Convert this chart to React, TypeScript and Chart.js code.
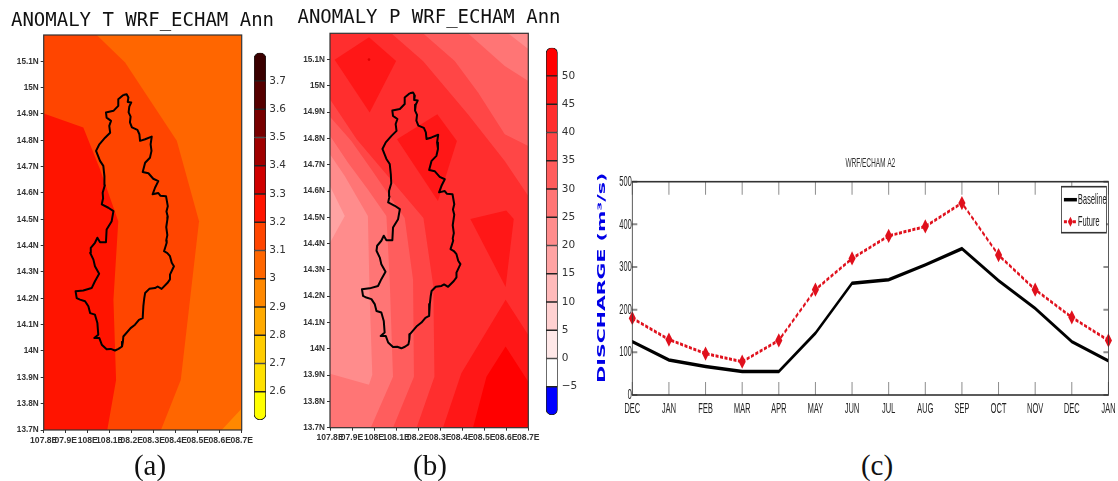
import React, { useEffect, useRef } from "react";
import { Chart, registerables } from "chart.js";

Chart.register(...registerables);

const LON_MIN = 107.8;
const LON_MAX = 108.7;
const LAT_MIN = 13.7;
const LAT_MAX = 15.2;

const LAT_TICKS = [13.7, 13.8, 13.9, 14, 14.1, 14.2, 14.3, 14.4, 14.5, 14.6, 14.7, 14.8, 14.9, 15, 15.1];
const LAT_LABELS = ["13.7N", "13.8N", "13.9N", "14N", "14.1N", "14.2N", "14.3N", "14.4N", "14.5N", "14.6N", "14.7N", "14.8N", "14.9N", "15N", "15.1N"];
const LON_TICKS = [107.8, 107.9, 108, 108.1, 108.2, 108.3, 108.4, 108.5, 108.6, 108.7];
const LON_LABELS = ["107.8E", "07.9E", "108E", "108.1E", "08.2E", "08.3E", "08.4E", "08.5E", "08.6E", "08.7E"];

type P = [number, number];

const BASIN: P[] = [
  [108.162, 14.972], [108.177, 14.975], [108.185, 14.963], [108.182, 14.946], [108.198, 14.944], [108.189, 14.928],
  [108.186, 14.906], [108.195, 14.89], [108.192, 14.868], [108.201, 14.849], [108.226, 14.84], [108.235, 14.823],
  [108.238, 14.798], [108.261, 14.804], [108.291, 14.814], [108.286, 14.785], [108.29, 14.76], [108.283, 14.734], [108.261, 14.715],
  [108.25, 14.68], [108.276, 14.675], [108.298, 14.654], [108.321, 14.645], [108.306, 14.62], [108.295, 14.595],
  [108.321, 14.6], [108.33, 14.59], [108.356, 14.588], [108.364, 14.55], [108.358, 14.53], [108.364, 14.51], [108.362, 14.499],
  [108.357, 14.47], [108.362, 14.44], [108.357, 14.42], [108.359, 14.411], [108.347, 14.379],
  [108.362, 14.372], [108.374, 14.36], [108.382, 14.335], [108.392, 14.322], [108.374, 14.29], [108.374, 14.272], [108.362, 14.258], [108.336, 14.236],
  [108.318, 14.245], [108.306, 14.239], [108.28, 14.236], [108.261, 14.22], [108.257, 14.2], [108.253, 14.17], [108.25, 14.125], [108.233, 14.118], [108.215, 14.1],
  [108.195, 14.087], [108.162, 14.055], [108.16, 14.035], [108.156, 14.017], [108.14, 14.008], [108.124, 14.002], [108.105, 14.008], [108.086, 14.007], [108.064, 14.024],
  [108.053, 14.049], [108.03, 14.049], [108.048, 14.062], [108.044, 14.106], [108.033, 14.138], [108.011, 14.144],
  [108.003, 14.17], [107.988, 14.189], [107.965, 14.195], [107.95, 14.201], [107.945, 14.227], [107.98, 14.23],
  [108.018, 14.239], [108.033, 14.265], [108.052, 14.293], [108.033, 14.322], [108.026, 14.347], [108.011, 14.373],
  [108.014, 14.392], [108.033, 14.411], [108.044, 14.43], [108.056, 14.413], [108.083, 14.413], [108.086, 14.461],
  [108.109, 14.493], [108.117, 14.531], [108.094, 14.544], [108.064, 14.557], [108.07, 14.58], [108.068, 14.601], [108.078, 14.63], [108.076, 14.664],
  [108.071, 14.703], [108.056, 14.722], [108.038, 14.76], [108.053, 14.785], [108.079, 14.81], [108.102, 14.829],
  [108.098, 14.855], [108.106, 14.874], [108.086, 14.886], [108.083, 14.906], [108.117, 14.912], [108.139, 14.931],
  [108.139, 14.956], [108.162, 14.972],
];

const FULL_BOX: P[] = [[LON_MIN, LAT_MIN], [LON_MIN, LAT_MAX], [LON_MAX, LAT_MAX], [LON_MAX, LAT_MIN], [LON_MIN, LAT_MIN]];

// Panel (a): temperature anomaly contours, painted back to front
const T_CORNER: P[] = [[108.609, 13.7], [108.7, 13.782], [108.7, 13.7], [108.609, 13.7]];
const T_BAND_31: P[] = [
  [107.8, 15.2], [108.041, 15.2], [108.17, 15.096], [108.405, 14.798], [108.506, 14.493], [108.465, 14.195],
  [108.423, 13.89], [108.333, 13.7], [107.8, 13.7], [107.8, 15.2],
];
const T_BAND_32: P[] = [
  [107.8, 14.902], [107.98, 14.849], [108.056, 14.69], [108.139, 14.493], [108.117, 14.195], [108.129, 13.89],
  [108.089, 13.7], [107.8, 13.7], [107.8, 14.902],
];

// Panel (b): precipitation anomaly contours, painted back to front
const P_TOP_A: P[] = [[108.078, 15.2], [108.222, 15.095], [108.426, 14.892], [108.593, 14.714], [108.7, 14.581], [108.7, 15.2], [108.078, 15.2]];
const P_TOP_B: P[] = [[108.222, 15.2], [108.366, 15.095], [108.472, 14.975], [108.593, 14.816], [108.7, 14.771], [108.7, 15.2], [108.222, 15.2]];
const P_TOP_C: P[] = [[108.426, 15.2], [108.593, 15.076], [108.7, 15.019], [108.7, 15.2], [108.426, 15.2]];
const P_TOP_D: P[] = [[108.608, 15.2], [108.7, 15.14], [108.7, 15.2], [108.608, 15.2]];
const P_LEFT_1: P[] = [[107.8, 14.949], [107.921, 14.797], [108.095, 14.625], [108.224, 14.498], [108.269, 14.238], [108.274, 13.894], [108.193, 13.7], [107.8, 13.7], [107.8, 14.949]];
const P_LEFT_2: P[] = [[107.8, 14.883], [107.897, 14.79], [107.988, 14.682], [108.139, 14.498], [108.177, 14.263], [108.181, 13.894], [108.086, 13.7], [107.8, 13.7], [107.8, 14.883]];
const P_LEFT_3: P[] = [[107.8, 14.81], [107.882, 14.708], [107.972, 14.606], [108.056, 14.505], [108.071, 14.263], [108.086, 13.894], [107.985, 13.7], [107.8, 13.7], [107.8, 14.81]];
const P_LEFT_4: P[] = [[107.8, 14.74], [107.867, 14.657], [107.972, 14.505], [107.98, 14.2], [107.992, 13.901], [107.977, 13.863], [107.8, 13.905], [107.8, 14.74]];
const P_LEFT_5: P[] = [[107.8, 14.619], [107.867, 14.505], [107.8, 14.403], [107.8, 14.619]];
const P_PEAK_1: P[] = [[107.821, 15.099], [107.977, 15.185], [108.1, 15.095], [107.98, 14.899], [107.821, 15.099]];
const P_PEAK_2: P[] = [[108.104, 14.797], [108.287, 14.892], [108.376, 14.79], [108.29, 14.562], [108.104, 14.797]];
const P_PEAK_3: P[] = [[108.437, 14.494], [108.6, 14.526], [108.634, 14.494], [108.597, 14.235], [108.437, 14.494]];
const P_CORNER_1: P[] = [[108.313, 13.7], [108.396, 13.907], [108.597, 14.187], [108.7, 14.053], [108.7, 13.7], [108.313, 13.7]];
const P_CORNER_2: P[] = [[108.449, 13.7], [108.51, 13.894], [108.597, 14.009], [108.7, 13.875], [108.7, 13.7], [108.449, 13.7]];
const P_DOT: P[] = [[107.977, 15.1]];

// Colour bars: level edges bottom to top with the colour of each interval
const T_EDGES = [2.5, 2.6, 2.7, 2.8, 2.9, 3.0, 3.1, 3.2, 3.3, 3.4, 3.5, 3.6, 3.7, 3.8];
const T_COLORS = ["#ffff00", "#ffe000", "#ffcc00", "#ffaa00", "#ff8800", "#ff6600", "#ff4500", "#ff1400", "#d00000", "#a00000", "#780000", "#560000", "#3a0000"];
const T_TICKS = [2.6, 2.7, 2.8, 2.9, 3, 3.1, 3.2, 3.3, 3.4, 3.5, 3.6, 3.7];
const T_TICK_LABELS = ["2.6", "2.7", "2.8", "2.9", "3", "3.1", "3.2", "3.3", "3.4", "3.5", "3.6", "3.7"];

const P_EDGES = [-10, -5, 0, 5, 10, 15, 20, 25, 30, 35, 40, 45, 50, 55];
const P_COLORS = ["#0000ff", "#ffffff", "#ffe8e8", "#ffd1d1", "#ffbaba", "#ffa3a3", "#ff8c8c", "#ff7575", "#ff5d5d", "#ff4646", "#ff2e2e", "#ff1717", "#ff0000"];
const P_TICKS = [-5, 0, 5, 10, 15, 20, 25, 30, 35, 40, 45, 50];
const P_TICK_LABELS = ["\u22125", "0", "5", "10", "15", "20", "25", "30", "35", "40", "45", "50"];

// Panel (c): discharge
const MONTHS = ["DEC", "JAN", "FEB", "MAR", "APR", "MAY", "JUN", "JUL", "AUG", "SEP", "OCT", "NOV", "DEC", "JAN"];
const BASELINE = [125, 82, 67, 55, 55, 145, 262, 270, 305, 343, 268, 203, 125, 80];
const FUTURE = [180, 130, 97, 78, 128, 247, 320, 373, 395, 450, 328, 247, 182, 128];

const FONT = "'Liberation Sans', Arial, sans-serif";

function poly(points: P[], color: string) {
  return {
    data: points.map(([x, y]) => ({ x, y })),
    showLine: true,
    fill: "shape",
    backgroundColor: color,
    borderColor: "transparent",
    borderWidth: 0,
    pointRadius: 0,
    tension: 0,
  };
}

const framePlugin = {
  id: "frame",
  afterDatasetsDraw(chart: any) {
    const { ctx, chartArea: a } = chart;
    ctx.save();
    ctx.strokeStyle = "#333";
    ctx.lineWidth = 1.2;
    ctx.strokeRect(a.left, a.top, a.right - a.left, a.bottom - a.top);
    ctx.restore();
  },
};

function mapConfig(
  layers: any[],
  title: string,
  titlePadding: { top: number; bottom: number },
  yWidth: number,
  xHeight: number,
  rightWidth: number
) {
  const basin = {
    data: BASIN.map(([x, y]) => ({ x, y })),
    showLine: true,
    fill: false,
    borderColor: "#000",
    borderWidth: 2,
    borderJoinStyle: "round",
    pointRadius: 0,
    tension: 0,
  };
  return {
    type: "scatter",
    data: { datasets: [basin, ...layers.slice().reverse()] },
    options: {
      animation: false,
      responsive: false,
      layout: { padding: 0 },
      plugins: {
        legend: { display: false },
        tooltip: { enabled: false },
        title: {
          display: true,
          text: title,
          color: "#111",
          font: { family: "'DejaVu Sans Mono', monospace", size: 19, weight: "normal", lineHeight: 1 },
          padding: titlePadding,
        },
      },
      scales: {
        x: {
          type: "linear",
          min: LON_MIN,
          max: LON_MAX,
          afterBuildTicks: (s: any) => { s.ticks = LON_TICKS.map((value) => ({ value })); },
          afterFit: (s: any) => { s.height = xHeight; },
          border: { display: false },
          grid: { drawOnChartArea: false, tickLength: 3, color: "#333" },
          ticks: {
            autoSkip: false,
            maxRotation: 0,
            minRotation: 0,
            padding: 2,
            color: "#333",
            font: { family: FONT, size: 8.6, weight: "bold" },
            callback: (_: any, i: number) => LON_LABELS[i],
          },
        },
        y: {
          type: "linear",
          min: LAT_MIN,
          max: LAT_MAX,
          afterBuildTicks: (s: any) => { s.ticks = LAT_TICKS.map((value) => ({ value })); },
          afterFit: (s: any) => { s.width = yWidth; },
          border: { display: false },
          grid: { drawOnChartArea: false, tickLength: 3, color: "#333" },
          ticks: {
            autoSkip: false,
            padding: 2,
            color: "#333",
            font: { family: FONT, size: 8.2, weight: "bold" },
            callback: (_: any, i: number) => LAT_LABELS[i],
          },
        },
        // empty side axis: keeps the title centred over the whole panel
        side: {
          type: "linear",
          position: "right",
          min: 0,
          max: 1,
          afterFit: (s: any) => { s.width = rightWidth; },
          border: { display: false },
          grid: { display: false, drawTicks: false },
          ticks: { display: false },
        },
      },
    },
    plugins: [framePlugin],
  };
}

function colorBarConfig(edges: number[], colors: string[], ticks: number[], labels: string[], yWidth: number, labelGap: number) {
  const last = colors.length - 1;
  return {
    type: "bar",
    data: {
      labels: [""],
      datasets: colors.map((c, i) => ({
        data: [[edges[i], edges[i + 1]]],
        backgroundColor: c,
        borderColor: "#222",
        borderWidth: 1,
        borderSkipped: false,
        borderRadius: i === 0
          ? { bottomLeft: 6, bottomRight: 6, topLeft: 0, topRight: 0 }
          : i === last
            ? { topLeft: 6, topRight: 6, bottomLeft: 0, bottomRight: 0 }
            : 0,
        grouped: false,
        categoryPercentage: 1,
        barPercentage: 1,
      })),
    },
    options: {
      animation: false,
      responsive: false,
      layout: { padding: { top: 12.7, bottom: 15, left: 0, right: 0 } },
      plugins: { legend: { display: false }, tooltip: { enabled: false } },
      scales: {
        x: { display: false },
        y: {
          position: "right",
          min: edges[0],
          max: edges[edges.length - 1],
          afterBuildTicks: (s: any) => { s.ticks = ticks.map((value) => ({ value })); },
          afterFit: (s: any) => { s.width = yWidth; },
          border: { display: false },
          grid: { display: false, drawTicks: false },
          ticks: {
            autoSkip: false,
            padding: labelGap,
            color: "#333",
            font: { family: "'DejaVu Sans', sans-serif", size: 10.5 },
            callback: (_: any, i: number) => labels[i],
          },
        },
      },
    },
  };
}

const dischargeDecor = {
  id: "dischargeDecor",
  afterDatasetsDraw(chart: any) {
    const { ctx, chartArea: a, scales } = chart;
    ctx.save();
    // inward tick marks on all four sides
    ctx.strokeStyle = "#8c8c8c";
    ctx.lineWidth = 2;
    scales.x.ticks.forEach((_: any, i: number) => {
      const x = scales.x.getPixelForTick(i);
      ctx.beginPath();
      ctx.moveTo(x, a.bottom); ctx.lineTo(x, a.bottom - 13);
      ctx.moveTo(x, a.top); ctx.lineTo(x, a.top + 13);
      ctx.stroke();
    });
    scales.y.ticks.forEach((_: any, i: number) => {
      const y = scales.y.getPixelForTick(i);
      ctx.beginPath();
      ctx.moveTo(a.left, y); ctx.lineTo(a.left + 10, y);
      ctx.moveTo(a.right, y); ctx.lineTo(a.right - 10, y);
      ctx.stroke();
    });
    ctx.strokeStyle = "#333";
    ctx.lineWidth = 1.6;
    ctx.strokeRect(a.left, a.top, a.right - a.left, a.bottom - a.top);

    // legend
    const [base, fut] = chart.data.datasets;
    const boxL = a.right - 94;
    const boxT = a.top + 5;
    ctx.fillStyle = "#fff";
    ctx.fillRect(boxL, boxT, 90, 46);
    ctx.strokeStyle = "#333";
    ctx.lineWidth = 1.6;
    ctx.strokeRect(boxL, boxT, 90, 46);
    ctx.font = `15px ${FONT}`;
    ctx.textBaseline = "middle";
    ctx.textAlign = "left";
    ctx.fillStyle = "#222";
    const y1 = boxT + 13;
    const y2 = boxT + 35;
    ctx.fillText(base.label, boxL + 33, y1);
    ctx.fillText(fut.label, boxL + 33, y2);
    ctx.strokeStyle = base.borderColor;
    ctx.lineWidth = base.borderWidth;
    ctx.beginPath();
    ctx.moveTo(boxL + 5, y1); ctx.lineTo(boxL + 31, y1);
    ctx.stroke();
    ctx.strokeStyle = fut.borderColor;
    ctx.lineWidth = fut.borderWidth;
    ctx.setLineDash(fut.borderDash);
    ctx.beginPath();
    ctx.moveTo(boxL + 5, y2); ctx.lineTo(boxL + 31, y2);
    ctx.stroke();
    ctx.setLineDash([]);
    ctx.fillStyle = fut.pointBackgroundColor;
    ctx.beginPath();
    ctx.moveTo(boxL + 18, y2 - 5); ctx.lineTo(boxL + 23, y2); ctx.lineTo(boxL + 18, y2 + 5); ctx.lineTo(boxL + 13, y2);
    ctx.closePath();
    ctx.fill();

    // rotated axis title, a little above the centre of the axis
    ctx.translate(a.left - 60, scales.y.getPixelForValue(275));
    ctx.rotate(-Math.PI / 2);
    ctx.textAlign = "center";
    ctx.textBaseline = "middle";
    ctx.fillStyle = "#0000e6";
    ctx.font = "bold 20.5px 'DejaVu Sans', sans-serif";
    ctx.fillText("DISCHARGE (m\u00b3/s)", 0, 0);
    ctx.restore();
  },
};

const dischargeConfig = {
  type: "line",
  data: {
    labels: MONTHS,
    datasets: [
      {
        label: "Baseline",
        data: BASELINE,
        borderColor: "#000",
        borderWidth: 3.5,
        pointRadius: 0,
        tension: 0,
      },
      {
        label: "Future",
        data: FUTURE,
        borderColor: "#e0101c",
        borderWidth: 3,
        borderDash: [6, 3],
        pointStyle: "rectRot",
        pointRadius: 5,
        pointBackgroundColor: "#e0101c",
        pointBorderColor: "#e0101c",
        tension: 0,
      },
    ],
  },
  options: {
    animation: false,
    responsive: false,
    layout: { padding: { left: 0, right: 16.6, top: 0, bottom: 0 } },
    plugins: {
      legend: { display: false },
      tooltip: { enabled: false },
      title: {
        display: true,
        text: "WRF/ECHAM A2",
        fullSize: false,
        color: "#333",
        font: { family: FONT, size: 13, weight: "normal", lineHeight: 1 },
        padding: { top: 7, bottom: 11.7 },
      },
    },
    scales: {
      x: {
        offset: false,
        afterFit: (s: any) => { s.height = 25; },
        border: { display: false },
        grid: { display: false, drawTicks: false },
        ticks: { autoSkip: false, maxRotation: 0, minRotation: 0, padding: 5, color: "#222", font: { family: FONT, size: 15 } },
      },
      y: {
        min: 0,
        max: 500,
        afterFit: (s: any) => { s.width = 84.6; },
        border: { display: false },
        grid: { display: false, drawTicks: false },
        ticks: { stepSize: 100, padding: 1, color: "#222", font: { family: FONT, size: 15 } },
      },
    },
  },
  plugins: [dischargeDecor],
};

const MAP_A_LAYERS = [
  poly(FULL_BOX, "#ff6600"),
  poly(T_CORNER, "#ff8800"),
  poly(T_BAND_31, "#ff4500"),
  poly(T_BAND_32, "#ff1400"),
];

const MAP_B_LAYERS = [
  poly(FULL_BOX, "#ff2e2e"),
  poly(P_TOP_A, "#ff4646"),
  poly(P_TOP_B, "#ff5d5d"),
  poly(P_TOP_C, "#ff7575"),
  poly(P_TOP_D, "#ff8c8c"),
  poly(P_LEFT_1, "#ff4646"),
  poly(P_LEFT_2, "#ff5d5d"),
  poly(P_LEFT_3, "#ff7575"),
  poly(P_LEFT_4, "#ff8c8c"),
  poly(P_LEFT_5, "#ffa3a3"),
  poly(P_PEAK_1, "#ff1717"),
  poly(P_PEAK_2, "#ff1717"),
  poly(P_PEAK_3, "#ff1717"),
  poly(P_CORNER_1, "#ff1717"),
  poly(P_CORNER_2, "#ff0000"),
];

const dotLayer = { data: P_DOT.map(([x, y]) => ({ x, y })), pointRadius: 1.3, pointBackgroundColor: "#e00000", pointBorderWidth: 0 };

function ChartCanvas({ config, left, top, width, height, squeeze }: any) {
  const ref = useRef<HTMLCanvasElement>(null);
  useEffect(() => {
    const chart = new Chart(ref.current as HTMLCanvasElement, config);
    return () => chart.destroy();
  }, [config]);
  return (
    <canvas
      ref={ref}
      width={width}
      height={height}
      style={{
        position: "absolute",
        left,
        top,
        width,
        height,
        transformOrigin: "left top",
        transform: squeeze ? `scaleX(${squeeze})` : undefined,
      }}
    />
  );
}

const CONFIG_A = mapConfig(MAP_A_LAYERS, "ANOMALY T WRF_ECHAM Ann", { top: 11.5, bottom: 4.5 }, 43.7, 51, 43.3);
const CONFIG_B = mapConfig([...MAP_B_LAYERS, dotLayer], "ANOMALY P WRF_ECHAM Ann", { top: 9, bottom: 5.3 }, 45, 53.3, 44.7);
const BAR_A = colorBarConfig(T_EDGES, T_COLORS, T_TICKS, T_TICK_LABELS, 28, 3.3);
const BAR_B = colorBarConfig(P_EDGES, P_COLORS, P_TICKS, P_TICK_LABELS, 28.3, 4);

const captionStyle = (cx: number): React.CSSProperties => ({
  position: "absolute",
  left: cx - 30,
  top: 449,
  width: 60,
  textAlign: "center",
  font: "29px/32px 'Liberation Serif', serif",
  color: "#111",
});

export default function App() {
  return (
    <div
      style={{
        position: "absolute",
        left: 0,
        top: 0,
        width: 1118,
        height: 481,
        overflow: "hidden",
        background: "#fff",
        filter: "blur(0.5px)",
      }}
    >
      <ChartCanvas config={CONFIG_A} left={0} top={0} width={285} height={481} />
      <ChartCanvas config={BAR_A} left={254} top={40} width={40} height={395} />
      <ChartCanvas config={CONFIG_B} left={285} top={0} width={288} height={481} />
      <ChartCanvas config={BAR_B} left={546} top={35} width={40} height={395} />
      <ChartCanvas config={dischargeConfig} left={590} top={150} width={1056} height={270} squeeze={0.5} />
      <div style={captionStyle(150)}>(a)</div>
      <div style={captionStyle(430)}>(b)</div>
      <div style={captionStyle(877)}>(c)</div>
    </div>
  );
}
